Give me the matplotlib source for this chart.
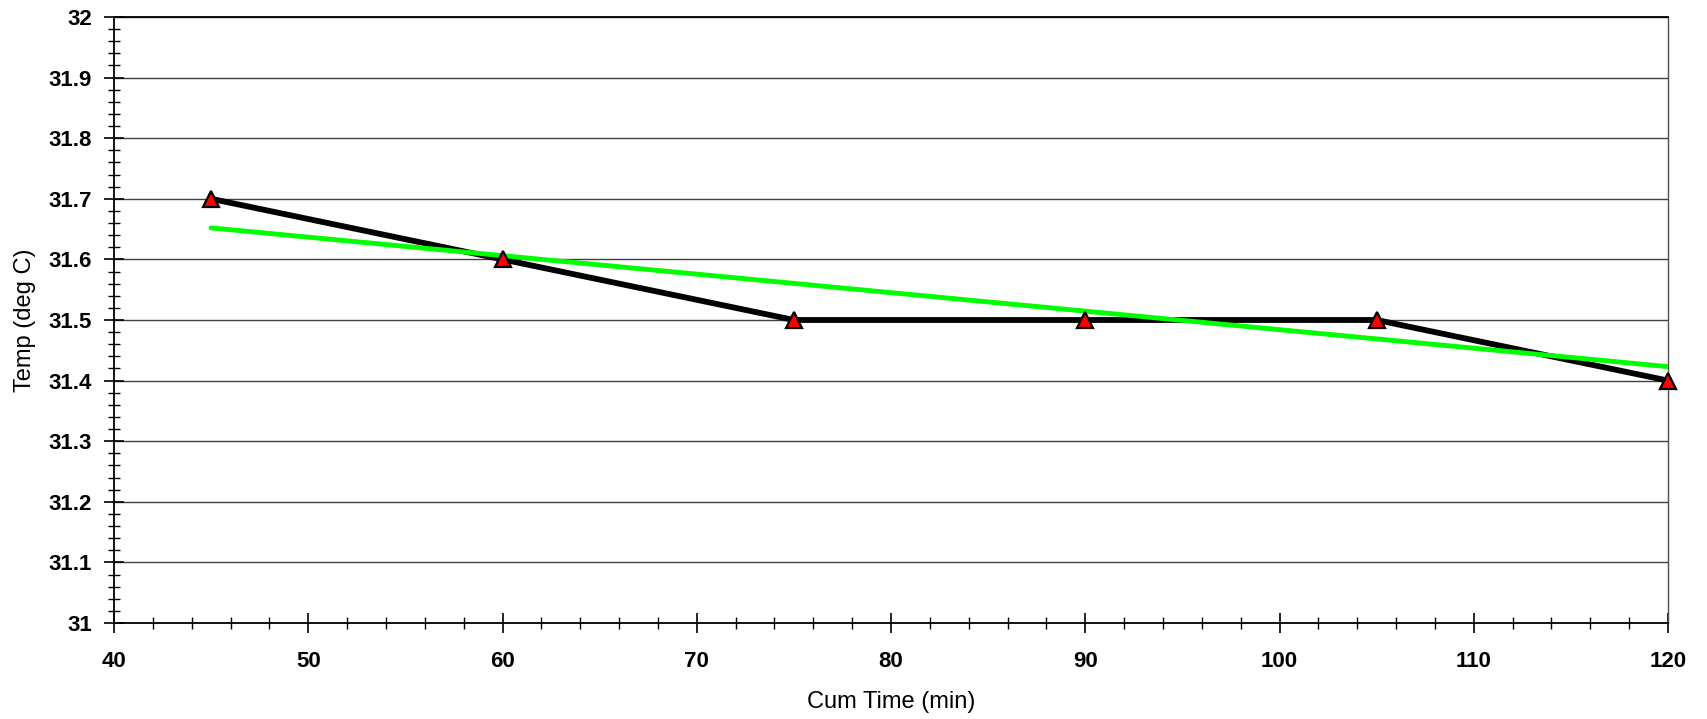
import matplotlib
matplotlib.use("Agg")
import matplotlib.pyplot as plt
from matplotlib.ticker import MultipleLocator

# readings
cum_time = [45, 60, 75, 90, 105, 120]
temp = [31.7, 31.6, 31.5, 31.5, 31.5, 31.4]

# linear trendline (end points)
trend_time = [45, 120]
trend_temp = [31.652, 31.423]

plt.rcParams['font.family'] = ['Liberation Sans', 'DejaVu Sans']

fig = plt.figure(figsize=(17.07, 7.19), dpi=100)
ax = fig.add_axes([114 / 1707, 1 - 623 / 719, (1668 - 114) / 1707, (623 - 17) / 719])

ax.plot(cum_time, temp, color='black', lw=4.2, zorder=3)
ax.plot(trend_time, trend_temp, color='#00ff00', lw=3.5, zorder=4,
        solid_capstyle='round')
ax.plot(cum_time, temp, ls='none', zorder=5,
        marker='^', ms=11, mfc='red', mec='black', mew=1.6, clip_on=False)

ax.set_xlim(40, 120)
ax.set_ylim(31, 32)
ax.xaxis.set_major_locator(MultipleLocator(10))
ax.xaxis.set_minor_locator(MultipleLocator(2))
ax.yaxis.set_major_locator(MultipleLocator(0.1))
ax.yaxis.set_minor_locator(MultipleLocator(0.02))
ax.yaxis.set_major_formatter(plt.FuncFormatter(lambda v, p: f'{v:g}'))

ax.grid(axis='y', which='major', color='#404040', lw=1.0)
ax.set_axisbelow(True)

ax.tick_params(which='major', direction='inout', length=14, width=1.2,
               labelsize=16)
ax.tick_params(which='minor', direction='inout', length=9, width=1.0)
ax.tick_params(axis='x', which='major', pad=13)
ax.tick_params(axis='y', which='major', pad=9)
for lab in ax.get_xticklabels() + ax.get_yticklabels():
    lab.set_fontweight('bold')

for side in ['left', 'bottom', 'top']:
    ax.spines[side].set_color('black')
    ax.spines[side].set_linewidth(1.3)
ax.spines['right'].set_color('#505050')
ax.spines['right'].set_linewidth(1.0)

ax.set_xlabel('Cum Time (min)', fontsize=17, labelpad=14)
ax.set_ylabel('Temp (deg C)', fontsize=17, labelpad=9)

fig.savefig('out.png', dpi=100)
